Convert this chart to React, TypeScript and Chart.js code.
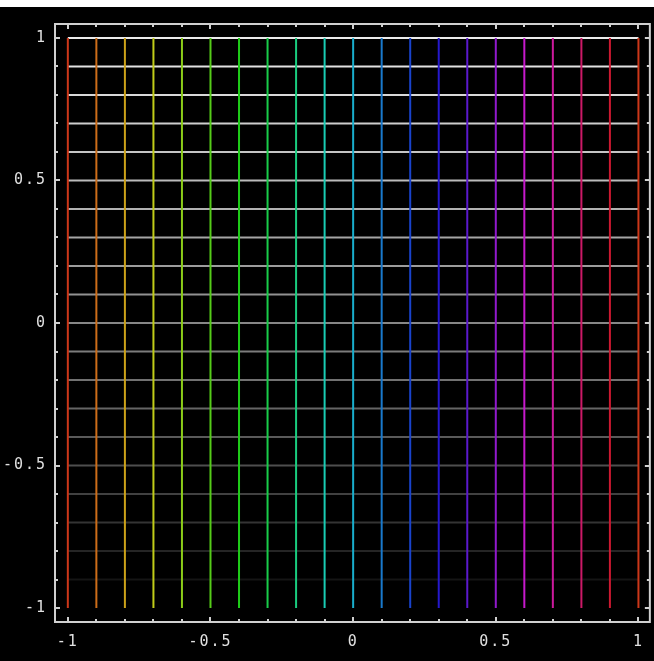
import React, { useEffect, useRef } from "react";
import { Chart, registerables } from "chart.js";

Chart.register(...registerables);

// Vertical mesh lines (x positions) and horizontal mesh lines (y positions)
const X_LINES = [-1, -0.9, -0.8, -0.7, -0.6, -0.5, -0.4, -0.3, -0.2, -0.1, 0, 0.1, 0.2, 0.3, 0.4, 0.5, 0.6, 0.7, 0.8, 0.9, 1];
const Y_LINES = [-1, -0.9, -0.8, -0.7, -0.6, -0.5, -0.4, -0.3, -0.2, -0.1, 0, 0.1, 0.2, 0.3, 0.4, 0.5, 0.6, 0.7, 0.8, 0.9, 1];
// Frame tick positions and labelled ticks
const TICKS = [-1, -0.9, -0.8, -0.7, -0.6, -0.5, -0.4, -0.3, -0.2, -0.1, 0, 0.1, 0.2, 0.3, 0.4, 0.5, 0.6, 0.7, 0.8, 0.9, 1];
const TICK_LABELS = [-1, -0.5, 0, 0.5, 1];
const TICK_TEXT = ["-1", "-0.5", "0", "0.5", "1"];
const LINE_START = -1;
const LINE_END = 1;

const labelFor = (v: number) => {
  const i = TICK_LABELS.findIndex((t) => Math.abs(t - v) < 1e-9);
  return i >= 0 ? TICK_TEXT[i] : "";
};

const hueColor = (x: number) => {
  const h = (10 + ((x + 1) / 2) * 360) % 360;
  return `hsl(${h}, 78%, 45%)`;
};
const grayColor = (y: number) => {
  const g = Math.round(235 * Math.pow((y + 1) / 2, 0.8));
  return `rgb(${g},${g},${g})`;
};

const framePlugin = {
  id: "frame",
  beforeDraw(chart: any) {
    const ctx = chart.ctx;
    ctx.save();
    ctx.fillStyle = "#000";
    ctx.fillRect(0, 0, chart.width, chart.height);
    ctx.restore();
    ctx.letterSpacing = "2px";
  },
  afterDraw(chart: any) {
    const { ctx, chartArea } = chart;
    const xs = chart.scales.x;
    const ys = chart.scales.y;
    ctx.save();
    ctx.strokeStyle = "#d0d0d0";
    ctx.lineWidth = 2;
    ctx.strokeRect(chartArea.left, chartArea.top, chartArea.right - chartArea.left, chartArea.bottom - chartArea.top);
    ctx.beginPath();
    for (const v of TICKS) {
      const major = labelFor(v) !== "";
      const len = major ? 5 : 3;
      const px = Math.round(xs.getPixelForValue(v));
      ctx.moveTo(px, chartArea.bottom);
      ctx.lineTo(px, chartArea.bottom - len);
      ctx.moveTo(px, chartArea.top);
      ctx.lineTo(px, chartArea.top + len);
      const py = Math.round(ys.getPixelForValue(v));
      ctx.moveTo(chartArea.left, py);
      ctx.lineTo(chartArea.left + len, py);
      ctx.moveTo(chartArea.right, py);
      ctx.lineTo(chartArea.right - len, py);
    }
    ctx.stroke();
    ctx.restore();
  },
};

export default function App() {
  const ref = useRef<HTMLCanvasElement | null>(null);
  useEffect(() => {
    if (!ref.current) return;
    const horizontal = Y_LINES.map((y) => ({
      data: [
        { x: LINE_START, y },
        { x: LINE_END, y },
      ],
      borderColor: grayColor(y),
      borderWidth: 2,
      showLine: true,
      pointRadius: 0,
      order: 2,
    }));
    const vertical = X_LINES.map((x) => ({
      data: [
        { x, y: LINE_START },
        { x, y: LINE_END },
      ],
      borderColor: hueColor(x),
      borderWidth: 2,
      showLine: true,
      pointRadius: 0,
      order: 1,
    }));
    const font = { family: "'DejaVu Sans Mono', monospace", size: 15 };
    const chart = new Chart(ref.current, {
      type: "scatter",
      data: { datasets: [...horizontal, ...vertical] as any },
      options: {
        animation: false,
        responsive: false,
        devicePixelRatio: 1,
        layout: { padding: { left: 0, top: 15, right: 2, bottom: 0 } },
        plugins: { legend: { display: false }, tooltip: { enabled: false } },
        scales: {
          x: {
            type: "linear",
            min: -1.045,
            max: 1.04,
            grid: { display: false, drawTicks: false },
            border: { display: false },
            afterBuildTicks: (s: any) => {
              s.ticks = TICKS.map((v) => ({ value: v }));
            },
            afterFit: (s: any) => {
              s.height = 39;
            },
            ticks: {
              autoSkip: false,
              maxRotation: 0,
              color: "#e0e0e0",
              font,
              padding: 11,
              callback: (v: any) => labelFor(Number(v)),
            },
          },
          y: {
            type: "linear",
            min: -1.049,
            max: 1.049,
            grid: { display: false, drawTicks: false },
            border: { display: false },
            afterBuildTicks: (s: any) => {
              s.ticks = TICKS.map((v) => ({ value: v }));
            },
            afterFit: (s: any) => {
              s.width = 55;
            },
            ticks: {
              autoSkip: false,
              color: "#e0e0e0",
              font,
              padding: 8,
              callback: (v: any) => labelFor(Number(v)),
            },
          },
        },
      },
      plugins: [framePlugin],
    });
    return () => chart.destroy();
  }, []);
  return (
    <div style={{ position: "absolute", top: 7, left: 0, width: 654, height: 654, background: "#000" }}>
      <canvas ref={ref} width={654} height={654} style={{ display: "block" }} />
    </div>
  );
}
